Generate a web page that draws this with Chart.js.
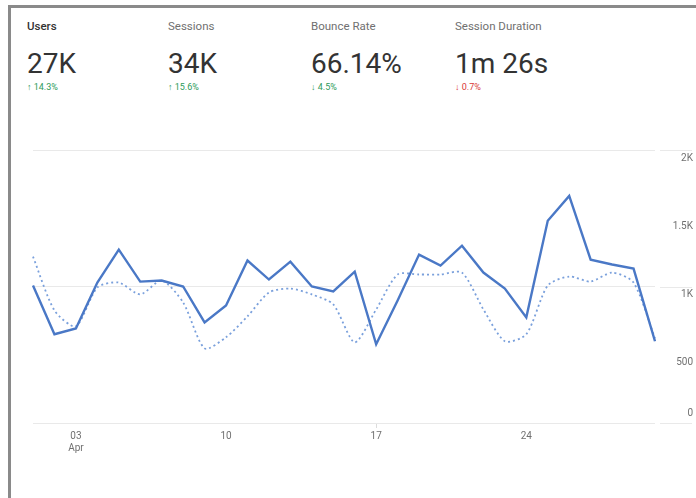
<!DOCTYPE html>
<html>
<head>
<meta charset="utf-8">
<script src="https://cdn.jsdelivr.net/npm/chart.js@4"></script>
<style>
  html, body { margin: 0; padding: 0; background: #fff; }
  body { width: 696px; height: 498px; position: relative; overflow: hidden; font-family: Roboto, "Noto Sans", sans-serif; }
  #frameTop { position: absolute; left: 8px; top: 5px; width: 688px; height: 3px; background: #8a8a8a; }
  #frameLeft { position: absolute; left: 8px; top: 5px; width: 3px; height: 493px; background: #8a8a8a; }
  .kpi { position: absolute; top: 18px; }
  .kpi .name { font-size: 11.5px; color: #707070; line-height: 16px; }
  .kpi .name.sel { color: #333; font-weight: 500; }
  .kpi .val { font-size: 28px; color: #333; line-height: 30px; margin-top: 15px; font-weight: 400; }
  .kpi .chg { font-size: 9px; line-height: 12px; margin-top: 2px; }
  .up { color: #2e9a5a; }
  .down { color: #2e9a5a; }
  .bad { color: #d93838; }
  #c { position: absolute; left: 0; top: 0; }
</style>
</head>
<body>
<div id="frameTop"></div>
<div id="frameLeft"></div>
<div id="kpis"></div>
<canvas id="c" width="696" height="498"></canvas>
<script>
// ---- data ----
const days = ['01','02','03','04','05','06','07','08','09','10','11','12','13','14','15',
              '16','17','18','19','20','21','22','23','24','25','26','27','28','29','30'];
const month = 'Apr';
const usersCurrent = [1007,650,693,1029,1270,1036,1044,1000,737,861,1190,1051,1182,1000,964,
                      1109,577,898,1234,1153,1299,1102,985,774,1482,1664,1197,1161,1131,599];
const usersPrevious = [1219,825,708,993,1029,942,1044,883,547,628,781,956,985,942,869,
                       591,832,1088,1088,1088,1102,832,599,650,1007,1073,1036,1102,1029,620];
const shownTickIndices = [2, 9, 16, 23];
const yTicks = [0, 500, 1000, 1500, 2000];
const yTickLabels = ['0', '500', '1K', '1.5K', '2K'];
const kpiNames = ['Users', 'Sessions', 'Bounce Rate', 'Session Duration'];
const kpiValues = ['27K', '34K', '66.14%', '1m 26s'];
const kpiChanges = ['\u2191 14.3%', '\u2191 15.6%', '\u2193 4.5%', '\u2193 0.7%'];
const kpiChangeClass = ['up', 'up', 'down', 'bad'];
const kpiLeft = [27, 168, 311, 455];

// ---- KPI header ----
const kpis = document.getElementById('kpis');
kpiNames.forEach((n, i) => {
  const d = document.createElement('div');
  d.className = 'kpi';
  d.style.left = kpiLeft[i] + 'px';
  d.innerHTML = '<div class="name' + (i === 0 ? ' sel' : '') + '">' + n + '</div>' +
                '<div class="val">' + kpiValues[i] + '</div>' +
                '<div class="chg ' + kpiChangeClass[i] + '">' + kpiChanges[i] + '</div>';
  kpis.appendChild(d);
});

const gridColor = '#e9e9e9';

const yLabelPlugin = {
  id: 'yLabels',
  afterDraw(chart) {
    const ctx = chart.ctx;
    const y = chart.scales.y;
    const ca = chart.chartArea;
    ctx.save();
    yTicks.forEach((v, i) => {
      const py = y.getPixelForValue(v);
      if (v % 1000 === 0) {
        ctx.strokeStyle = gridColor;
        ctx.lineWidth = 1;
        ctx.beginPath();
        ctx.moveTo(ca.right + 5, Math.round(py) + 0.5);
        ctx.lineTo(ca.right + 37, Math.round(py) + 0.5);
        ctx.stroke();
      }
      ctx.fillStyle = '#707070';
      ctx.font = '10px Roboto, "Noto Sans", sans-serif';
      ctx.textAlign = 'right';
      ctx.textBaseline = 'middle';
      ctx.fillText(yTickLabels[i], ca.right + 38, py + (v === 0 ? -10 : 8));
    });
    ctx.restore();
  }
};

new Chart(document.getElementById('c'), {
  type: 'line',
  data: {
    labels: days,
    datasets: [
      {
        label: 'Users',
        data: usersCurrent,
        borderColor: '#4a78c6',
        borderWidth: 2.4,
        pointRadius: 0,
        tension: 0,
        fill: false
      },
      {
        label: 'Users (previous period)',
        data: usersPrevious,
        borderColor: '#7aa0dc',
        borderWidth: 1.8,
        borderDash: [2, 3],
        pointRadius: 0,
        tension: 0.25,
        fill: false
      }
    ]
  },
  options: {
    responsive: false,
    animation: false,
    layout: { padding: { left: 33, top: 150, right: 0, bottom: 0 } },
    plugins: { legend: { display: false }, tooltip: { enabled: false } },
    scales: {
      x: {
        type: 'category',
        offset: false,
        afterFit(s) { s.height = 75; },
        border: { display: false },
        grid: {
          drawOnChartArea: false,
          drawTicks: true,
          tickLength: 5,
          color: (c) => shownTickIndices.includes(c.index) ? '#dcdcdc' : 'rgba(0,0,0,0)'
        },
        ticks: {
          autoSkip: false,
          maxRotation: 0,
          padding: 2,
          color: '#707070',
          font: { family: 'Roboto', size: 10 },
          callback: (v, i) => {
            if (!shownTickIndices.includes(i)) return null;
            return i === 2 ? [days[i], month] : days[i];
          }
        }
      },
      y: {
        position: 'right',
        min: 0,
        max: 2000,
        afterFit(s) { s.width = 41; },
        border: { display: false },
        grid: {
          drawTicks: false,
          color: (c) => (c.tick && c.tick.value % 1000 === 0) ? gridColor : 'rgba(0,0,0,0)'
        },
        ticks: { stepSize: 500, display: false }
      }
    }
  },
  plugins: [yLabelPlugin]
});
</script>
</body>
</html>
